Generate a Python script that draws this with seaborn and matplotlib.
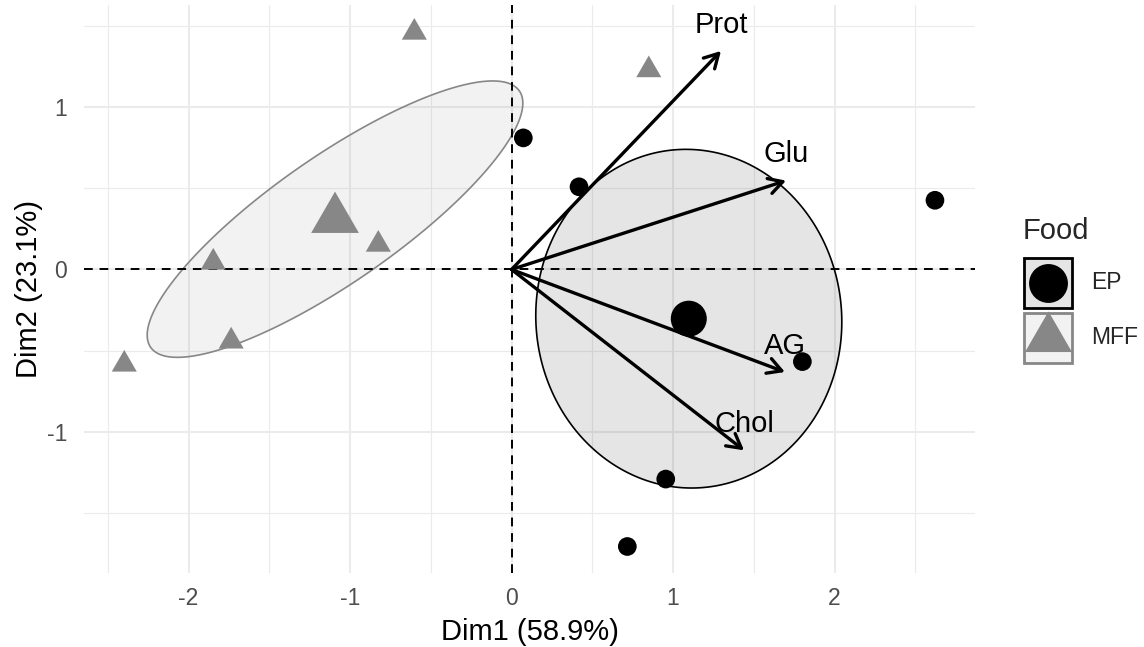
import numpy as np
import pandas as pd
import matplotlib
matplotlib.use("Agg")
import matplotlib.pyplot as plt
import seaborn as sns
from matplotlib.path import Path
from matplotlib.patches import Polygon, Rectangle

# ---- individuals (PCA scores) ----
food = ["EP"] * 6 + ["MFF"] * 6
dim1 = [0.073, 0.418, 2.622, 1.801, 0.955, 0.717,
        -0.602, 0.850, -1.847, -0.825, -1.736, -2.398]
dim2 = [0.810, 0.509, 0.426, -0.567, -1.290, -1.705,
        1.459, 1.228, 0.044, 0.154, -0.442, -0.584]

# ---- variables (scaled loadings) ----
variables = ["Prot", "Glu", "AG", "Chol"]
var_dim1 = [1.297, 1.700, 1.693, 1.440]
var_dim2 = [1.345, 0.547, -0.631, -1.113]

xlabel = "Dim1 (58.9%)"
ylabel = "Dim2 (23.1%)"
groups = ["EP", "MFF"]
palette = {"EP": "#000000", "MFF": "#878787"}

# triangle centred on its centroid (like R's pch 17)
tri = Path([(0, 1.555), (1.347, -0.778), (-1.347, -0.778), (0, 1.555)],
           [Path.MOVETO, Path.LINETO, Path.LINETO, Path.CLOSEPOLY])
markers = {"EP": "o", "MFF": tri}

ind = pd.DataFrame({"Dim1": dim1, "Dim2": dim2, "Food": food})
means = ind.groupby("Food", as_index=False)[["Dim1", "Dim2"]].mean()

sns.set_style("white")
plt.rcParams["font.family"] = ["Liberation Sans", "DejaVu Sans"]
plt.rcParams["axes.unicode_minus"] = False

W, H = 1144, 647
fig = plt.figure(figsize=(W / 100, H / 100), dpi=100)
ax = fig.add_axes([0.0732, 0.1144, 0.7795, 0.8779])

# grid (theme_minimal look)
ax.set_xlim(-2.649, 2.873)
ax.set_ylim(-1.868, 1.628)
ax.set_xticks([-2, -1, 0, 1, 2])
ax.set_yticks([-1, 0, 1])
ax.set_xticks([-2.5, -1.5, -0.5, 0.5, 1.5, 2.5], minor=True)
ax.set_yticks([-1.5, -0.5, 0.5, 1.5], minor=True)
ax.grid(True, which="major", color="#EBEBEB", lw=1.5, zorder=0)
ax.grid(True, which="minor", color="#EBEBEB", lw=0.8, zorder=0)
ax.set_axisbelow(True)
for s in ax.spines.values():
    s.set_visible(False)

# confidence ellipses around group barycentres
k = np.sqrt(-2 * np.log(0.05))
t = np.linspace(0, 2 * np.pi, 300)
for g in groups:
    sub = ind[ind["Food"] == g][["Dim1", "Dim2"]].to_numpy()
    n = len(sub)
    c = sub.mean(axis=0)
    cov = np.cov(sub.T) / n
    vals, vecs = np.linalg.eigh(cov)
    circ = np.stack([np.cos(t), np.sin(t)])
    pts = (vecs @ (np.sqrt(vals)[:, None] * circ)) * k + c[:, None]
    ax.add_patch(Polygon(pts.T, closed=True, facecolor=palette[g], alpha=0.1,
                         edgecolor="none", zorder=1))
    ax.add_patch(Polygon(pts.T, closed=True, facecolor="none",
                         edgecolor=palette[g], lw=1.2, zorder=1.1))

# reference lines
ax.axhline(0, color="black", lw=1.4, ls=(0, (4.5, 3.5)), zorder=1.5)
ax.axvline(0, color="black", lw=1.4, ls=(0, (4.5, 3.5)), zorder=1.5)

# individuals
sns.scatterplot(data=ind, x="Dim1", y="Dim2", hue="Food", style="Food",
                size="Food", sizes={"EP": 181, "MFF": 433},
                markers=markers, palette=palette, linewidth=0,
                legend=False, ax=ax, zorder=3)
# group means
sns.scatterplot(data=means, x="Dim1", y="Dim2", hue="Food", style="Food",
                size="Food", sizes={"EP": 672, "MFF": 1573},
                markers=markers, palette=palette, linewidth=0,
                legend=False, ax=ax, zorder=3)

# variable arrows
for name, vx, vy in zip(variables, var_dim1, var_dim2):
    ax.annotate("", xy=(vx, vy), xytext=(0, 0),
                arrowprops=dict(arrowstyle="->,head_length=0.5,head_width=0.28",
                                lw=2.4, color="black", shrinkA=0, shrinkB=0,
                                mutation_scale=20),
                zorder=4)
    ax.annotate(name, xy=(vx, vy), xytext=(0, 19), textcoords="offset points",
                ha="center", va="center", fontsize=21, color="black", zorder=5)

ax.tick_params(axis="both", which="both", length=0, labelsize=16.5,
               labelcolor="#4D4D4D")
ax.tick_params(axis="x", pad=10)
ax.tick_params(axis="y", pad=12)
ax.set_xlabel(xlabel, fontsize=21, color="black", labelpad=6)
ax.set_ylabel(ylabel, fontsize=21, color="black", labelpad=3)

# legend: title, keys (ellipse fill + outline with the group marker) and labels
fig.text(1023 / W, 1 - 231 / H, "Food", fontsize=21, ha="left", va="center")
key_tops = {"EP": 257, "MFF": 312}
key_sizes = {"EP": 28, "MFF": 39}
for g in groups:
    top = key_tops[g]
    kax = fig.add_axes([1023 / W, 1 - (top + 52) / H, 50 / W, 52 / H])
    kax.set_xlim(0, 1)
    kax.set_ylim(0, 1)
    kax.axis("off")
    kax.add_patch(Rectangle((0, 0), 1, 1, facecolor=palette[g], alpha=0.1,
                            edgecolor="none", transform=kax.transAxes))
    kax.add_patch(Rectangle((0.02, 0.02), 0.96, 0.96, facecolor="none",
                            edgecolor=palette[g], lw=2, transform=kax.transAxes,
                            clip_on=False))
    kax.plot([0.5], [0.5], ls="none", marker=markers[g], color=palette[g],
             markeredgewidth=0, markersize=key_sizes[g], clip_on=False)
    fig.text(1091 / W, 1 - (top + 26) / H, g, fontsize=16.5, ha="left",
             va="center")

fig.savefig("out.png", dpi=100)
